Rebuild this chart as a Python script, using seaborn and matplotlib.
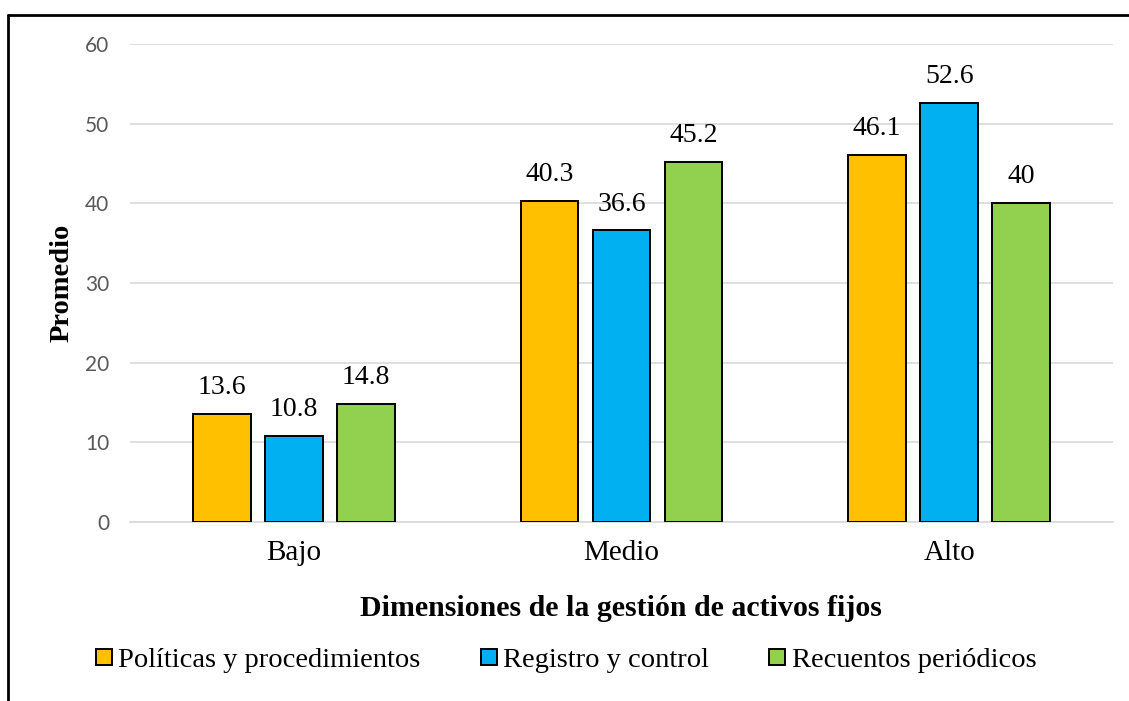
#!/usr/bin/env python3

import matplotlib.pyplot as plt
import matplotlib.lines as mlines
import pandas as pd
import seaborn as sns

niveles = ["Bajo", "Medio", "Alto"]
series = ["Políticas y procedimientos", "Registro y control", "Recuentos periódicos"]
politicas = [13.6, 40.3, 46.1]
registro = [10.8, 36.6, 52.6]
recuentos = [14.8, 45.2, 40]
etiquetas = [["13.6", "40.3", "46.1"], ["10.8", "36.6", "52.6"], ["14.8", "45.2", "40"]]
colores = ["#FFC000", "#00B0F0", "#92D050"]

df = pd.DataFrame({
    "nivel": niveles * 3,
    "serie": [s for s in series for _ in niveles],
    "valor": politicas + registro + recuentos,
})

sns.set_style("white")
plt.rcParams["text.color"] = "black"
plt.rcParams["xtick.color"] = "black"
serif = "Liberation Serif"

fig = plt.figure(figsize=(11.29, 7.01), dpi=100)
ax = fig.add_axes([130 / 1129, 1 - 522 / 701, (1113 - 130) / 1129, (522 - 44) / 701])

sns.barplot(data=df, x="nivel", y="valor", hue="serie", order=niveles,
            hue_order=series, palette=colores, width=0.66, gap=0.2,
            edgecolor="black", linewidth=1.4, saturation=1, ax=ax,
            legend=False, zorder=3)

for cont, labs in zip(ax.containers, etiquetas):
    ax.bar_label(cont, labels=labs, padding=10, fontsize=20, family=serif, color="black")

ax.set_ylim(0, 60)
ax.set_xlim(-0.5, 2.5)
ax.set_yticks(range(0, 61, 10))
ax.yaxis.grid(True, color="#D9D9D9", linewidth=1.2, zorder=0)
for s in ["top", "right", "left"]:
    ax.spines[s].set_visible(False)
ax.spines["bottom"].set_color("#D9D9D9")
ax.spines["bottom"].set_linewidth(1.2)
ax.tick_params(axis="y", length=0, labelsize=15, labelcolor="#595959", pad=15)
ax.tick_params(axis="x", length=0, labelsize=21, pad=13, labelcolor="black")
for t in ax.get_xticklabels():
    t.set_family(serif)
for t in ax.get_yticklabels():
    t.set_family("Lato")

# separators between categories
ax.set_xticks([-0.5, 0.5, 1.5, 2.5], minor=True)
ax.tick_params(axis="x", which="minor", length=7, color="#D9D9D9", width=1.2)

ax.set_ylabel("Promedio", fontsize=20.5, fontweight="bold", family=serif,
              va="center", ha="center", color="black")
ax.yaxis.set_label_coords((62 - 130) / 983, (522 - 283) / 478)
ax.set_xlabel("Dimensiones de la gestión de activos fijos", fontsize=21.5,
              fontweight="bold", family=serif, va="center", ha="center", color="black")
ax.xaxis.set_label_coords((621 - 130) / 983, (522 - 608) / 478)

handles = [mlines.Line2D([], [], marker="s", linestyle="none", markersize=12,
                         markerfacecolor=c, markeredgecolor="black", markeredgewidth=1.4)
           for c in colores]
fig.legend(handles, series, loc="center", bbox_to_anchor=(0.5, 1 - 660 / 701),
           ncol=3, frameon=False, prop={"family": serif, "size": 20.5},
           handletextpad=0.1, columnspacing=2.0, handlelength=0.8, labelcolor="black")

# border around chart area
fig.add_artist(mlines.Line2D([8 / 1129, 1], [1 - 15 / 701, 1 - 15 / 701],
                             color="black", linewidth=2, transform=fig.transFigure))
fig.add_artist(mlines.Line2D([8 / 1129, 8 / 1129], [0, 1 - 15 / 701],
                             color="black", linewidth=2, transform=fig.transFigure))

fig.savefig("out.png", dpi=100, facecolor="white")
